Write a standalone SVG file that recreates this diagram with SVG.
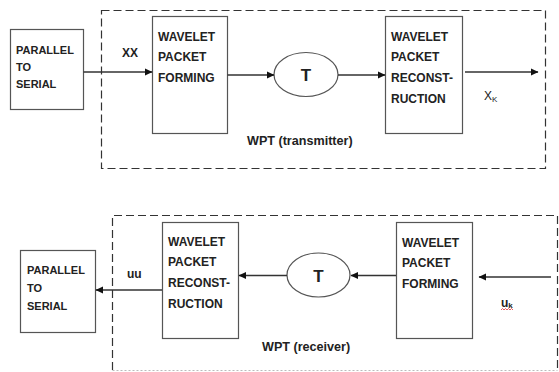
<svg xmlns="http://www.w3.org/2000/svg" width="559" height="372" viewBox="0 0 559 372">
<defs>
<marker id="ah" markerWidth="8" markerHeight="8" refX="7" refY="4" orient="auto" markerUnits="userSpaceOnUse">
<path d="M0,0.5 L7.5,4 L0,7.5 Z" fill="#111"/>
</marker>
</defs>
<style>
.box{fill:#fff;stroke:#555;stroke-width:1.2}
.dash{fill:none;stroke:#333;stroke-width:1.2;stroke-dasharray:8,4}
.lbl{font-family:"Liberation Sans",Arial,sans-serif;font-weight:bold;font-size:12px;fill:#222}
.sm{font-size:11px}
.cap{font-size:12.6px}
.conn{stroke:#333;stroke-width:1.4;fill:none;marker-end:url(#ah)}
.tt{font-family:"Liberation Sans",Arial,sans-serif;font-weight:bold;font-size:17px;fill:#222;text-anchor:middle}
.nrm{font-family:"Liberation Sans",Arial,sans-serif;font-size:12px;fill:#222}
</style>
<rect width="559" height="372" fill="#fff"/>

<g id="wpt-transmitter">
<rect class="dash" x="101.5" y="10.5" width="444" height="158"/>
<text class="lbl cap" x="247" y="145">WPT (transmitter)</text>
</g>
<g id="wpt-receiver">
<path class="dash" d="M112.5,370 V215.5 H557.5 V370"/>
<path d="M112.5,370.5 H557.5" fill="none" stroke="#bbb" stroke-width="1" stroke-dasharray="2,2"/>
<text class="lbl cap" x="262" y="351">WPT (receiver)</text>
</g>

<g id="p2s-top">
<rect class="box" x="10.5" y="29.5" width="73" height="80"/>
<text class="lbl sm" x="16" y="54">PARALLEL</text>
<text class="lbl sm" x="16" y="71">TO</text>
<text class="lbl sm" x="16" y="88">SERIAL</text>
</g>
<g id="wpf-top">
<rect class="box" x="152.5" y="16.5" width="75" height="117"/>
<text class="lbl" x="158" y="41">WAVELET</text>
<text class="lbl" x="158" y="61">PACKET</text>
<text class="lbl" x="158" y="82">FORMING</text>
</g>
<g id="t-top">
<ellipse class="box" cx="306" cy="74.5" rx="32" ry="22"/>
<text class="tt" x="306" y="81">T</text>
</g>
<g id="wpr-top">
<rect class="box" x="385.5" y="16.5" width="77" height="117"/>
<text class="lbl" x="391" y="41">WAVELET</text>
<text class="lbl" x="391" y="61">PACKET</text>
<text class="lbl" x="391" y="82">RECONST-</text>
<text class="lbl" x="391" y="103">RUCTION</text>
</g>

<g id="p2s-bottom">
<rect class="box" x="20.5" y="250.5" width="75" height="82"/>
<text class="lbl sm" x="27" y="274">PARALLEL</text>
<text class="lbl sm" x="27" y="292">TO</text>
<text class="lbl sm" x="27" y="310">SERIAL</text>
</g>
<g id="wpr-bottom">
<rect class="box" x="162.5" y="222.5" width="76" height="116"/>
<text class="lbl" x="168" y="246">WAVELET</text>
<text class="lbl" x="168" y="266">PACKET</text>
<text class="lbl" x="168" y="287">RECONST-</text>
<text class="lbl" x="168" y="308">RUCTION</text>
</g>
<g id="t-bottom">
<ellipse class="box" cx="318.5" cy="275" rx="31.5" ry="22"/>
<text class="tt" x="318.5" y="282">T</text>
</g>
<g id="wpf-bottom">
<rect class="box" x="396.5" y="222.5" width="76" height="116"/>
<text class="lbl" x="402" y="247">WAVELET</text>
<text class="lbl" x="402" y="267">PACKET</text>
<text class="lbl" x="402" y="288">FORMING</text>
</g>

<g id="connectors">
<line class="conn" x1="83.5" y1="72" x2="152" y2="72"/>
<line class="conn" x1="227.5" y1="75" x2="274" y2="75"/>
<line class="conn" x1="338" y1="75" x2="385" y2="75"/>
<line class="conn" x1="465" y1="72" x2="538" y2="72"/>
<line class="conn" x1="162" y1="290" x2="96" y2="290"/>
<line class="conn" x1="287" y1="275.5" x2="239" y2="275.5"/>
<line class="conn" x1="396" y1="275.5" x2="351" y2="275.5"/>
<line class="conn" x1="551" y1="277" x2="479" y2="277"/>
<text class="lbl" x="122" y="57">XX</text>
<text class="nrm" x="484" y="100">X<tspan font-size="8" dy="2">K</tspan></text>
<text class="lbl" x="127" y="278">uu</text>
<text class="lbl" x="501" y="307">u<tspan font-size="8" dy="1">k</tspan></text>
<path d="M501,310 l1.5,-1.5 l1.5,1.5 l1.5,-1.5 l1.5,1.5 l1.5,-1.5 l1.5,1.5 l1.5,-1.5 l1.5,1.5" fill="none" stroke="#d33" stroke-width="0.8"/>
</g>
</svg>
